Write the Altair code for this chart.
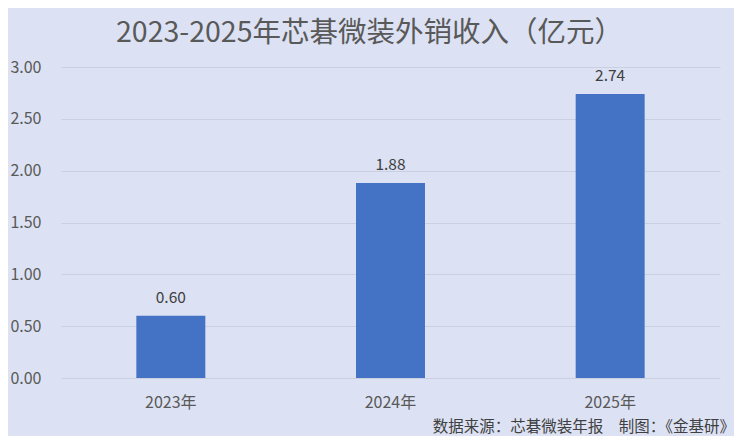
import altair as alt
import pandas as pd

years = ["2023年", "2024年", "2025年"]
revenue = [0.60, 1.88, 2.74]
labels = ["0.60", "1.88", "2.74"]
title_text = "2023-2025年芯碁微装外销收入（亿元）"
source_text = ["数据来源：芯碁微装年报　制图：《金基研》"]

df = pd.DataFrame({"year": years, "value": revenue, "label": labels})
src = pd.DataFrame({"t": source_text})

FONT = "Noto Sans CJK SC"
BG = "#DCE2F3"
W, H = 659, 311

x_enc = alt.X("year:N", sort=years, title=None,
              scale=alt.Scale(paddingInner=0.686, paddingOuter=0.343),
              axis=alt.Axis(labelAngle=0, labelFontSize=16, labelColor="#595959",
                            labelFont=FONT, domain=False, ticks=False, labelPadding=16))
y_enc = alt.Y("value:Q", title=None,
              scale=alt.Scale(domain=[0, 3]),
              axis=alt.Axis(values=[0, 0.5, 1, 1.5, 2, 2.5, 3], format=".2f",
                            labelFontSize=16, labelColor="#595959", labelFont=FONT,
                            domain=False, ticks=False, labelPadding=20,
                            gridColor="#C9D0E0", gridWidth=1))

bars = alt.Chart(df).mark_bar(color="#4472C4").encode(x=x_enc, y=y_enc)

texts = alt.Chart(df).mark_text(baseline="bottom", dy=-10, fontSize=15.5,
                                color="#404040", font=FONT).encode(
    x=alt.X("year:N", sort=years), y="value:Q", text="label:N")

source = alt.Chart(src).mark_text(align="right", baseline="middle", fontSize=15.5,
                                  color="#404040", font=FONT).encode(
    x=alt.value(674), y=alt.value(360), text="t:N")

chart = alt.layer(bars, texts, source).properties(
    width=W, height=H,
    background=BG,
    padding={"left": 53, "top": 59, "right": 14, "bottom": 58},
    autosize=alt.AutoSizeParams(type="none"),
    title=alt.TitleParams(title_text, fontSize=28.5, font=FONT, color="#595959",
                          fontWeight="normal", anchor="middle", dx=-21, offset=12),
).configure_view(stroke=None)

chart.save("out.html", embed_options={"renderer": "svg", "actions": False})
